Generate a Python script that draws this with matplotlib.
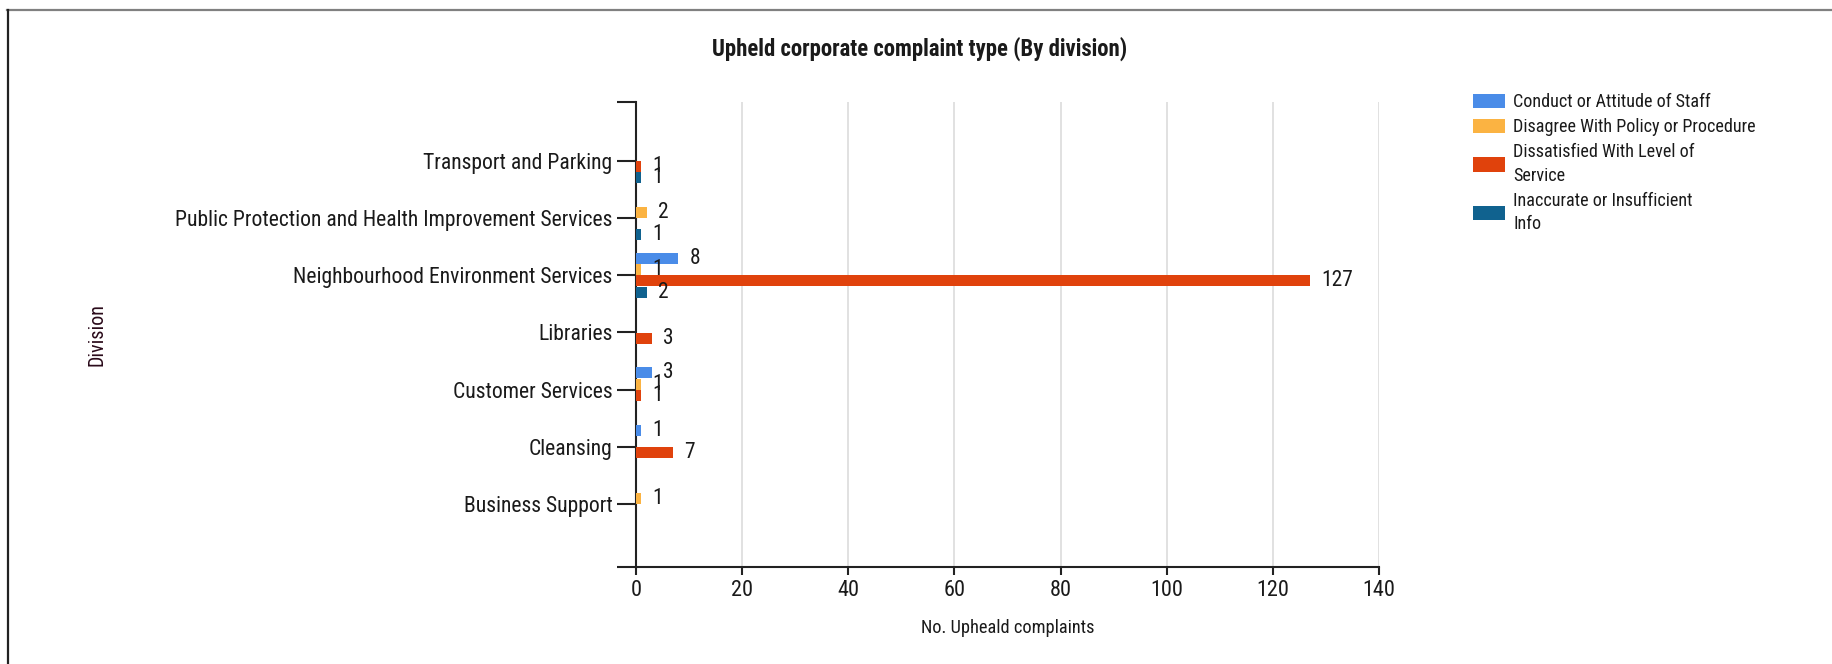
import matplotlib
matplotlib.use("Agg")
import matplotlib.pyplot as plt
from matplotlib import font_manager
from matplotlib.lines import Line2D
import numpy as np

# Prefer a narrow sans face; fall back to Liberation Sans with a smaller size
available = {f.name: f for f in font_manager.fontManager.ttflist}
narrow_faces = [f for f in font_manager.fontManager.ttflist
                if f.stretch in ("condensed", "semi-condensed", "extra-condensed")
                or "Narrow" in f.name or "Condensed" in f.name]
chosen, stretch, scale = "Liberation Sans", "normal", 0.89
for fam in ["Roboto Condensed", "Liberation Sans Narrow", "Open Sans Condensed"]:
    if fam in available:
        chosen, stretch, scale = fam, "normal", 1.0
        break
else:
    for f in narrow_faces:
        if f.name in ("DejaVu Sans", "Roboto", "Open Sans", "Noto Sans"):
            chosen, stretch, scale = f.name, f.stretch, 0.95
            break

plt.rcParams['font.family'] = [chosen, 'DejaVu Sans']
plt.rcParams['font.stretch'] = stretch

# Divisions, top to bottom
divisions = [
    "Transport and Parking",
    "Public Protection and Health Improvement Services",
    "Neighbourhood Environment Services",
    "Libraries",
    "Customer Services",
    "Cleansing",
    "Business Support",
]

series_names = [
    "Conduct or Attitude of Staff",
    "Disagree With Policy or Procedure",
    "Dissatisfied With Level of\nService",
    "Inaccurate or Insufficient\nInfo",
]
series_colors = ["#4a8ce8", "#fbb342", "#e0420c", "#10628f"]

conduct      = [0, 0, 8, 0, 3, 1, 0]
disagree     = [0, 2, 1, 0, 1, 0, 1]
dissatisfied = [1, 0, 127, 3, 1, 7, 0]
inaccurate   = [1, 1, 2, 0, 0, 0, 0]
series_values = [conduct, disagree, dissatisfied, inaccurate]

x_ticks = [0, 20, 40, 60, 80, 100, 120, 140]

W, H = 1833, 664
fig = plt.figure(figsize=(W / 100, H / 100), dpi=100)
fig.patch.set_facecolor("white")

ax_left, ax_right, ax_top, ax_bottom = 636, 1379, 102, 567
ax = fig.add_axes([ax_left / W, 1 - ax_bottom / H,
                   (ax_right - ax_left) / W, (ax_bottom - ax_top) / H])

y_pos = np.arange(len(divisions))
step = 0.196
bar_h = 0.19
for i, (vals, col, name) in enumerate(zip(series_values, series_colors, series_names)):
    offs = (i - 1.5) * step
    cont = ax.barh(y_pos + offs, vals, height=bar_h, color=col, linewidth=0,
                   label=name, zorder=3)
    ax.bar_label(cont, labels=[str(v) if v else "" for v in vals],
                 padding=8, fontsize=15.5 * scale, color="#1a1a1a")

y_top_lim, y_bot_lim = -1.03, 7.10
ax.set_ylim(y_bot_lim, y_top_lim)
ax.set_xlim(0, 140)

ax.set_yticks(y_pos)
ax.set_yticklabels(divisions, fontsize=15.6 * scale, color="#1a1a1a")
ax.set_yticks([y_top_lim, y_bot_lim], minor=True)
ax.set_xticks(x_ticks)
ax.set_xticklabels([str(t) for t in x_ticks], fontsize=16 * scale, color="#1a1a1a")

ax.tick_params(axis="y", which="both", length=14, width=1.5, color="#222222", pad=3)
ax.tick_params(axis="x", which="both", length=6, width=1.5, color="#222222", pad=3)

for s in ["top", "right"]:
    ax.spines[s].set_visible(False)
for s in ["left", "bottom"]:
    ax.spines[s].set_color("#222222")
    ax.spines[s].set_linewidth(1.5)

ax.grid(axis="x", color="#dcdcdc", linewidth=1.2, zorder=0)
ax.set_axisbelow(True)

ax.set_xlabel("No. Upheald complaints", fontsize=13.2 * scale, color="#1a1a1a")
ax.xaxis.set_label_coords(0.5, -(628 - ax_bottom) / (ax_bottom - ax_top))
ax.xaxis.label.set_va("center")
ax.set_ylabel("Division", fontsize=14.5 * scale, color="#2a0a1a")
ax.yaxis.set_label_coords((97 - ax_left) / (ax_right - ax_left), 0.5)
ax.yaxis.label.set_va("center")

fig.text(920 / W, 1 - 49 / H, "Upheld corporate complaint type (By division)",
         ha="center", va="center", fontsize=16.4 * scale, fontweight="bold",
         color="#1a1a1a")

leg = fig.legend(loc="upper left", bbox_to_anchor=(1466 / W, 1 - 86 / H),
                 frameon=False, fontsize=13.1 * scale, handlelength=1.75,
                 handleheight=0.85, handletextpad=0.45, labelspacing=0.38,
                 borderaxespad=0)
for t in leg.get_texts():
    t.set_color("#1a1a1a")
    t.set_linespacing(1.4)

# page frame lines
fig.add_artist(Line2D([7 / W, 1], [1 - 10 / H, 1 - 10 / H], color="#808080",
                      linewidth=1.6, transform=fig.transFigure))
fig.add_artist(Line2D([8 / W, 8 / W], [1 - 10 / H, 0], color="#222222",
                      linewidth=1.6, transform=fig.transFigure))

fig.savefig("out.png", dpi=100)
